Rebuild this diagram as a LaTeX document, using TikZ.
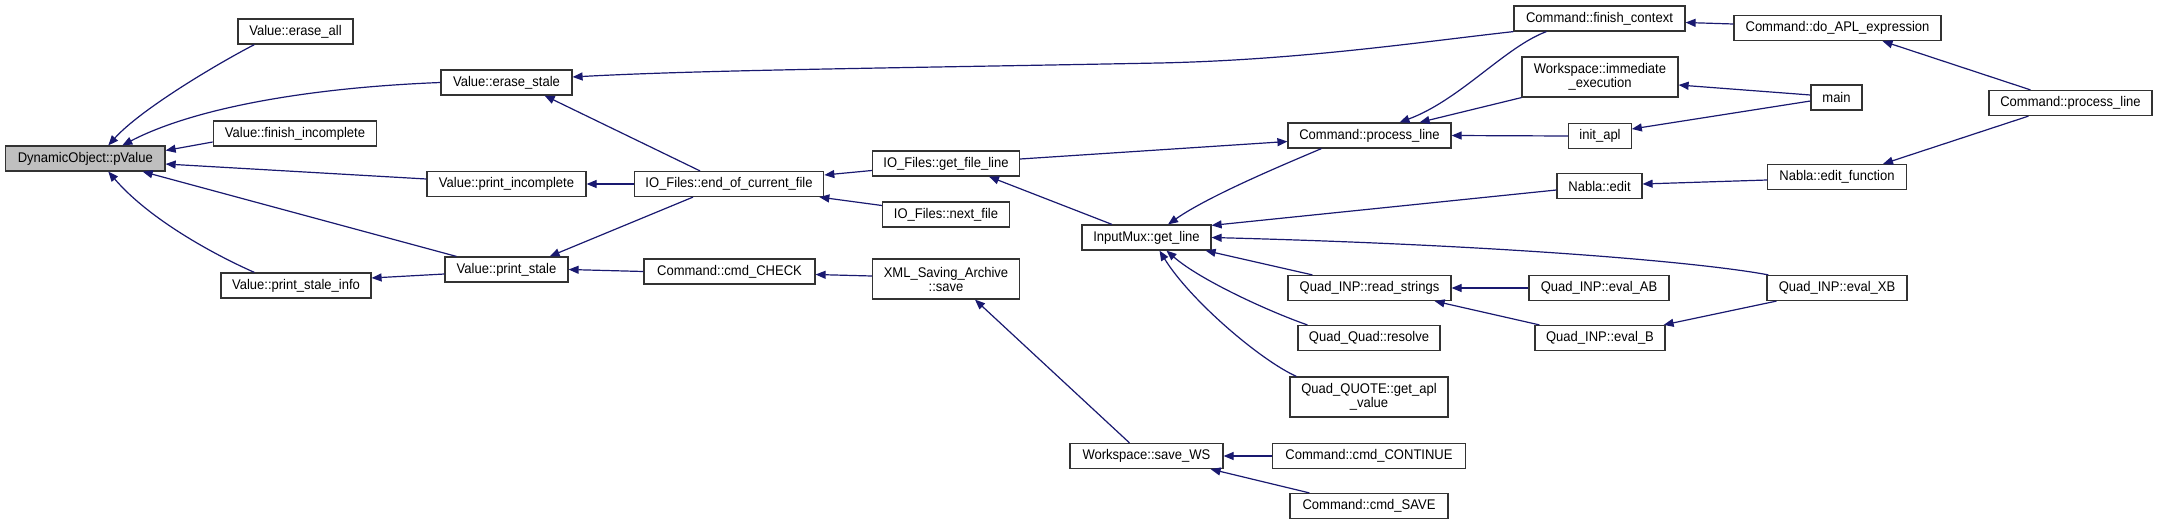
\documentclass[tikz,border=0pt]{standalone}
\usepackage{fontspec}
\setmainfont[FakeStretch=0.93]{Liberation Sans}
\usetikzlibrary{arrows.meta}
\definecolor{edgeblue}{HTML}{191970}
\definecolor{boxgray}{HTML}{BFBFBF}
\begin{document}
\begin{tikzpicture}[x=1pt,y=-1pt,
  fn/.style={draw=black!80,line width=1.2pt,fill=white,inner sep=0pt,minimum height=25pt,
    font=\fontsize{14}{14}\selectfont,align=center},
  fn2/.style={fn,minimum height=40pt},
  edge/.style={draw=edgeblue,line width=1.2pt,-{Triangle[length=10pt,width=8pt]}}]
\useasboundingbox[fill=white] (0,0) rectangle (2157,525);
% nodes
\node[fn,fill=boxgray,minimum width=159.5pt] (pv) at (85.3,158.5) {DynamicObject::pValue};
\node[fn,minimum width=115pt] (ea) at (295.5,31.5) {Value::erase\_all};
\node[fn,minimum width=131pt] (es) at (506.5,82.5) {Value::erase\_stale};
\node[fn,minimum width=163.5pt] (fi) at (295,133.5) {Value::finish\_incomplete};
\node[fn,minimum width=159pt] (pi) at (506.5,184) {Value::print\_incomplete};
\node[fn,minimum width=189.5pt] (eoc) at (729,184) {IO\_Files::end\_of\_current\_file};
\node[fn,minimum width=123pt] (ps) at (506.5,269.5) {Value::print\_stale};
\node[fn,minimum width=150pt] (psi) at (296,285.5) {Value::print\_stale\_info};
\node[fn,minimum width=171pt] (cc) at (729.5,271.5) {Command::cmd\_CHECK};
\node[fn,minimum width=147pt] (gfl) at (946,163.5) {IO\_Files::get\_file\_line};
\node[fn,minimum width=127pt] (nf) at (946,214.5) {IO\_Files::next\_file};
\node[fn2,minimum width=147pt] (xml) at (946,279) {XML\_Saving\_Archive\\::save};
\node[fn,minimum width=153pt] (sws) at (1146.5,456) {Workspace::save\_WS};
\node[fn,minimum width=129pt] (gl) at (1146.5,237.5) {InputMux::get\_line};
\node[fn,minimum width=163pt] (cpl) at (1369.5,135.5) {Command::process\_line};
\node[fn,minimum width=163pt] (rs) at (1369.5,288) {Quad\_INP::read\_strings};
\node[fn,minimum width=142pt] (qr) at (1369,338) {Quad\_Quad::resolve};
\node[fn2,minimum width=158pt] (qq) at (1369,397) {Quad\_QUOTE::get\_apl\\\_value};
\node[fn,minimum width=193.5pt] (ccont) at (1369,456) {Command::cmd\_CONTINUE};
\node[fn,minimum width=158pt] (csave) at (1369,506) {Command::cmd\_SAVE};
\node[fn,minimum width=171pt] (fc) at (1599.5,18.5) {Command::finish\_context};
\node[fn2,minimum width=156pt] (ie) at (1600,77) {Workspace::immediate\\\_execution};
\node[fn,minimum width=62.5pt] (ia) at (1600,136) {init\_apl};
\node[fn,minimum width=85pt] (ne) at (1599.5,186) {Nabla::edit};
\node[fn,minimum width=140pt] (eab) at (1599,288) {Quad\_INP::eval\_AB};
\node[fn,minimum width=130pt] (eb) at (1600,338) {Quad\_INP::eval\_B};
\node[fn,minimum width=207pt] (dape) at (1837.5,28) {Command::do\_APL\_expression};
\node[fn,minimum width=51pt] (main) at (1836.5,97.5) {main};
\node[fn,minimum width=138.5pt] (nef) at (1837,177) {Nabla::edit\_function};
\node[fn,minimum width=140pt] (exb) at (1837,288) {Quad\_INP::eval\_XB};
\node[fn,minimum width=163pt] (cpr) at (2070.5,103) {Command::process\_line};
% edges (caller -> callee)
\draw[edge] ([xshift=17pt]ea.south west) .. controls (215,65) and (140,110) .. ([xshift=23pt]pv.north);
\draw[edge] (es.west) .. controls (300,88) and (190,110) .. ([xshift=37pt]pv.north);
\draw[edge] ([yshift=-8.5pt]fi.west) -- ([yshift=8pt]pv.east);
\draw[edge] ([yshift=5pt]pi.west) -- ([yshift=-5.5pt]pv.east);
\draw[edge] ([xshift=12pt]ps.north west) -- ([xshift=-23pt]pv.south east);
\draw[edge] ([xshift=34pt]psi.north west) .. controls (215,255) and (150,220) .. ([xshift=23pt]pv.south);
\draw[edge] (fc.south west) .. controls (1420,42) and (1300,60) .. (1159,63) .. controls (900,68) and (700,70) .. ([yshift=5.5pt]es.east);
\draw[edge] ([xshift=-29pt]eoc.north) -- ([xshift=-28pt]es.south east);
\draw[edge] (eoc.west) -- (pi.east);
\draw[edge] ([xshift=-36pt]eoc.south) -- ([xshift=-19pt]ps.north east);
\draw[edge] ([yshift=-4.5pt]ps.west) -- ([yshift=7.5pt]psi.east);
\draw[edge] (cc.west) -- (ps.east);
\draw[edge] ([yshift=-7pt]gfl.west) -- ([yshift=9pt]eoc.east);
\draw[edge] ([yshift=9pt]nf.west) -- ([xshift=-5pt]eoc.south east);
\draw[edge] ([yshift=3pt]xml.west) -- ([yshift=-3pt]cc.east);
\draw[edge] ([xshift=-17pt]sws.north) -- ([xshift=29pt]xml.south);
\draw[edge] (ccont.west) -- (sws.east);
\draw[edge] ([xshift=20pt]csave.north west) -- ([xshift=-13pt]sws.south east);
\draw[edge] ([yshift=4.5pt]gfl.east) -- ([yshift=-6pt]cpl.west);
\draw[edge] ([xshift=-34.5pt]gl.north) -- ([xshift=43pt]gfl.south);
\draw[edge] ([xshift=34pt]cpl.south west) .. controls (1290,162) and (1210,195) .. ([xshift=21.5pt]gl.north);
\draw[edge] ([xshift=33pt]fc.south west) .. controls (1505,47) and (1460,100) .. ([xshift=30pt]cpl.north);
\draw[edge] (ie.south west) -- ([xshift=-32pt]cpl.north east);
\draw[edge] (ia.west) -- (cpl.east);
\draw[edge] ([yshift=2.5pt]main.west) -- ([yshift=-8pt]ie.east);
\draw[edge] ([yshift=-3.5pt]main.west) -- ([yshift=7pt]ia.east);
\draw[edge] ([yshift=4pt]dape.west) -- ([yshift=-4pt]fc.east);
\draw[edge] ([xshift=-40pt]cpr.north) -- ([xshift=45pt]dape.south);
\draw[edge] ([xshift=-42pt]cpr.south) -- ([xshift=46pt]nef.north);
\draw[edge] ([yshift=-3pt]nef.west) -- ([yshift=2pt]ne.east);
\draw[edge] ([yshift=-4pt]ne.west) -- ([yshift=-1pt]gl.north east);
\draw[edge] ([xshift=2pt]exb.north west) .. controls (1700,262) and (1500,245) .. (gl.east);
\draw[edge] ([xshift=25pt]rs.north west) -- ([xshift=-6pt]gl.south east);
\draw[edge] ([xshift=10pt]qr.north west) .. controls (1270,312) and (1200,280) .. ([xshift=20pt]gl.south);
\draw[edge] ([xshift=7pt]qq.north west) .. controls (1260,360) and (1190,300) .. ([xshift=13pt]gl.south);
\draw[edge] (eab.west) -- (rs.east);
\draw[edge] ([xshift=5pt]eb.north west) -- ([xshift=-17pt]rs.south east);
\draw[edge] ([xshift=10pt]exb.south west) -- ([xshift=-2pt]eb.north east);
\end{tikzpicture}
\end{document}
